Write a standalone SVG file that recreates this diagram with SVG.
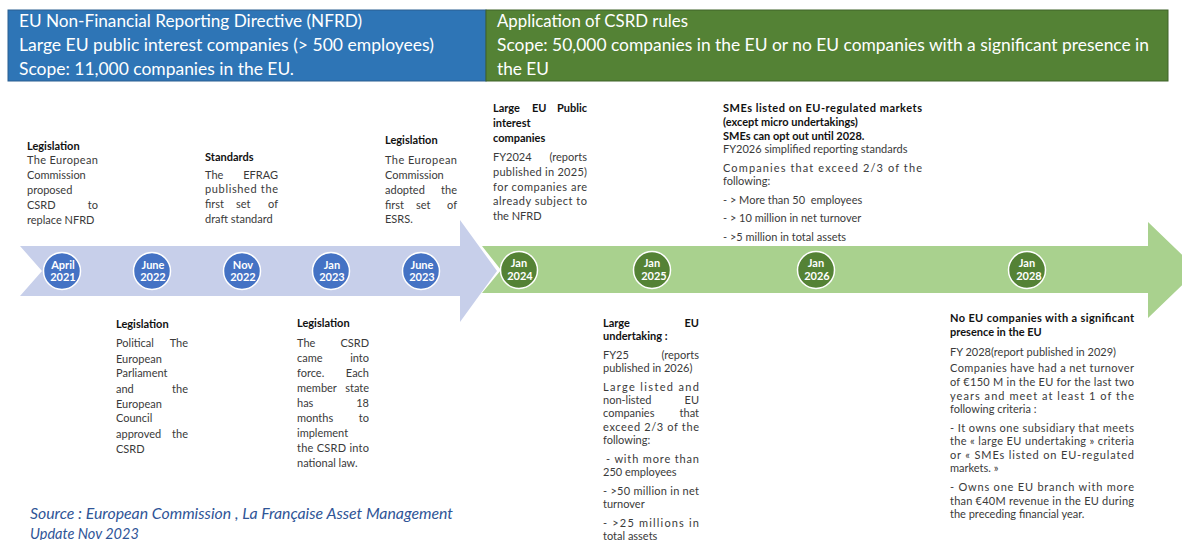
<svg xmlns="http://www.w3.org/2000/svg" width="1182" height="540" viewBox="0 0 1182 540">
  <style>
    .hd { font-family: Lato, "Liberation Sans", sans-serif; font-size: 17px; fill: #ffffff; }
    .t { font-family: Lato, "Liberation Sans", sans-serif; font-size: 11px; fill: #3a3a3a; }
    .b { font-family: Lato, "Liberation Sans", sans-serif; font-size: 11px; font-weight: bold; fill: #111111; }
    .e { text-anchor: end; }
    .dt { font-family: Lato, "Liberation Sans", sans-serif; font-size: 11px; font-weight: bold; fill: #ffffff; text-anchor: middle; }
    .src { font-family: Lato, "Liberation Sans", sans-serif; font-size: 14.5px; font-style: italic; fill: #2f5597; }
    .mb { fill: #4472c4; stroke: #ffffff; stroke-width: 1.5; }
    .mg { fill: #548235; stroke: #ffffff; stroke-width: 1.5; }
  </style>

  <rect width="1182" height="540" fill="#ffffff"/>

  <!-- Header bands -->
  <g id="header-nfrd">
    <rect x="8" y="10" width="478" height="71" fill="#2e75b6" stroke="#2a5e90" stroke-width="1"/>
    <text class="hd" x="19" y="27" textLength="343" lengthAdjust="spacingAndGlyphs">EU Non-Financial Reporting Directive (NFRD)</text>
    <text class="hd" x="19" y="51" textLength="415" lengthAdjust="spacingAndGlyphs">Large EU public interest companies (&gt; 500 employees)</text>
    <text class="hd" x="19" y="75" textLength="275" lengthAdjust="spacingAndGlyphs">Scope: 11,000 companies in the EU.</text>
  </g>
  <g id="header-csrd">
    <rect x="486" y="10" width="682" height="71" fill="#548235" stroke="#3e6328" stroke-width="1"/>
    <text class="hd" x="497" y="27" textLength="191" lengthAdjust="spacingAndGlyphs">Application of CSRD rules</text>
    <text class="hd" x="497" y="51" textLength="652" lengthAdjust="spacingAndGlyphs">Scope: 50,000 companies in the EU or no EU companies with a significant presence in</text>
    <text class="hd" x="497" y="75" textLength="52" lengthAdjust="spacingAndGlyphs">the EU</text>
  </g>

  <!-- Timeline arrows -->
  <g id="timeline">
    <polygon points="482,246 1148,246 1148,222 1198,270 1148,318 1148,293 482,293 501,270" fill="#a9d18e"/>
    <polygon points="20,246 460,246 460,220 497,271 460,322 460,296 20,296 42,271" fill="#c7cfea"/>
  </g>

  <!-- Milestones -->
  <g id="m-2021-04"><circle class="mb" cx="62" cy="271" r="18.5"/><text class="dt" x="63" y="269">April</text><text class="dt" x="63" y="281">2021</text></g>
  <g id="m-2022-06"><circle class="mb" cx="152" cy="271" r="18.5"/><text class="dt" x="153" y="269">June</text><text class="dt" x="153" y="281">2022</text></g>
  <g id="m-2022-11"><circle class="mb" cx="242" cy="271" r="18.5"/><text class="dt" x="243" y="269">Nov</text><text class="dt" x="243" y="281">2022</text></g>
  <g id="m-2023-01"><circle class="mb" cx="331" cy="271" r="18.5"/><text class="dt" x="332" y="269">Jan</text><text class="dt" x="332" y="281">2023</text></g>
  <g id="m-2023-06"><circle class="mb" cx="421" cy="271" r="18.5"/><text class="dt" x="422" y="269">June</text><text class="dt" x="422" y="281">2023</text></g>
  <g id="m-2024-01"><circle class="mg" cx="519" cy="270" r="18.5"/><text class="dt" x="519" y="267">Jan</text><text class="dt" x="520" y="280">2024</text></g>
  <g id="m-2025-01"><circle class="mg" cx="652" cy="270" r="18.5"/><text class="dt" x="652" y="267">Jan</text><text class="dt" x="654" y="280">2025</text></g>
  <g id="m-2026-01"><circle class="mg" cx="816" cy="270" r="18.5"/><text class="dt" x="816" y="267">Jan</text><text class="dt" x="817" y="280">2026</text></g>
  <g id="m-2028-01"><circle class="mg" cx="1027" cy="270" r="18.5"/><text class="dt" x="1027" y="267">Jan</text><text class="dt" x="1029" y="280">2028</text></g>

  <!-- Events above the timeline -->
  <g id="ev-csrd-proposed">
    <text class="b" x="27" y="150">Legislation</text>
    <text class="t" x="27" y="164" textLength="71" lengthAdjust="spacing">The European</text>
    <text class="t" x="27" y="179">Commission</text>
    <text class="t" x="27" y="194">proposed</text>
    <text class="t" x="27" y="209">CSRD</text><text class="t e" x="98" y="209">to</text>
    <text class="t" x="27" y="224">replace NFRD</text>
  </g>

  <g id="ev-efrag-draft">
    <text class="b" x="205" y="161">Standards</text>
    <text class="t" x="205" y="179">The</text><text class="t e" x="278" y="179">EFRAG</text>
    <text class="t" x="205" y="193" textLength="73" lengthAdjust="spacing">published the</text>
    <text class="t" x="205" y="208">first</text><text class="t" x="236" y="208">set</text><text class="t e" x="278" y="208">of</text>
    <text class="t" x="205" y="223">draft standard</text>
  </g>

  <g id="ev-esrs-adopted">
    <text class="b" x="385" y="144">Legislation</text>
    <text class="t" x="385" y="164" textLength="72" lengthAdjust="spacing">The European</text>
    <text class="t" x="385" y="179">Commission</text>
    <text class="t" x="385" y="194">adopted</text><text class="t e" x="457" y="194">the</text>
    <text class="t" x="385" y="209">first</text><text class="t" x="416" y="209">set</text><text class="t e" x="457" y="209">of</text>
    <text class="t" x="385" y="223">ESRS.</text>
  </g>

  <g id="ev-large-pie">
    <text class="b" x="493" y="112">Large</text><text class="b" x="532" y="112">EU</text><text class="b e" x="587" y="112">Public</text>
    <text class="b" x="493" y="127">interest</text>
    <text class="b" x="493" y="142">companies</text>
    <text class="t" x="493" y="161">FY2024</text><text class="t e" x="587" y="161">(reports</text>
    <text class="t" x="493" y="176" textLength="94" lengthAdjust="spacing">published in 2025)</text>
    <text class="t" x="493" y="191" textLength="94" lengthAdjust="spacing">for companies are</text>
    <text class="t" x="493" y="205" textLength="94" lengthAdjust="spacing">already subject to</text>
    <text class="t" x="493" y="220">the NFRD</text>
  </g>

  <g id="ev-listed-smes">
    <text class="b" x="723" y="112" textLength="199" lengthAdjust="spacing">SMEs listed on EU-regulated markets</text>
    <text class="b" x="723" y="126">(except micro undertakings)</text>
    <text class="b" x="723" y="140">SMEs can opt out until 2028.</text>
    <text class="t" x="723" y="153">FY2026 simplified reporting standards</text>
    <text class="t" x="723" y="172" textLength="199" lengthAdjust="spacing">Companies that exceed 2/3 of the</text>
    <text class="t" x="723" y="185">following:</text>
    <text class="t" x="723" y="204" xml:space="preserve">- &gt; More than 50  employees</text>
    <text class="t" x="723" y="222">- &gt; 10 million in net turnover</text>
    <text class="t" x="723" y="241">- &gt;5 million in total assets</text>
  </g>

  <!-- Events below the timeline -->
  <g id="ev-political-agreement">
    <text class="b" x="116" y="328">Legislation</text>
    <text class="t" x="116" y="347">Political</text><text class="t e" x="188" y="347">The</text>
    <text class="t" x="116" y="363">European</text>
    <text class="t" x="116" y="377">Parliament</text>
    <text class="t" x="116" y="393">and</text><text class="t e" x="188" y="393">the</text>
    <text class="t" x="116" y="408">European</text>
    <text class="t" x="116" y="422">Council</text>
    <text class="t" x="116" y="438">approved</text><text class="t e" x="188" y="438">the</text>
    <text class="t" x="116" y="453">CSRD</text>
  </g>

  <g id="ev-csrd-in-force">
    <text class="b" x="297" y="327">Legislation</text>
    <text class="t" x="297" y="347">The</text><text class="t e" x="369" y="347">CSRD</text>
    <text class="t" x="297" y="362">came</text><text class="t e" x="369" y="362">into</text>
    <text class="t" x="297" y="377">force.</text><text class="t e" x="369" y="377">Each</text>
    <text class="t" x="297" y="392">member</text><text class="t e" x="369" y="392">state</text>
    <text class="t" x="297" y="407">has</text><text class="t e" x="369" y="407">18</text>
    <text class="t" x="297" y="422">months</text><text class="t e" x="369" y="422">to</text>
    <text class="t" x="297" y="437">implement</text>
    <text class="t" x="297" y="452" textLength="72" lengthAdjust="spacing">the CSRD into</text>
    <text class="t" x="297" y="467">national law.</text>
  </g>

  <g id="ev-large-undertakings">
    <text class="b" x="603" y="327">Large</text><text class="b e" x="699" y="327">EU</text>
    <text class="b" x="603" y="340">undertaking :</text>
    <text class="t" x="603" y="359">FY25</text><text class="t e" x="699" y="359">(reports</text>
    <text class="t" x="603" y="372">published in 2026)</text>
    <text class="t" x="603" y="391" textLength="96" lengthAdjust="spacing">Large listed and</text>
    <text class="t" x="603" y="404">non-listed</text><text class="t e" x="699" y="404">EU</text>
    <text class="t" x="603" y="417">companies</text><text class="t e" x="699" y="417">that</text>
    <text class="t" x="603" y="431" textLength="96" lengthAdjust="spacing">exceed 2/3 of the</text>
    <text class="t" x="603" y="444">following:</text>
    <text class="t" x="606" y="463" textLength="93" lengthAdjust="spacing">- with more than</text>
    <text class="t" x="603" y="476">250 employees</text>
    <text class="t" x="603" y="495" textLength="96" lengthAdjust="spacing">- &gt;50 million in net</text>
    <text class="t" x="603" y="508">turnover</text>
    <text class="t" x="603" y="527" textLength="96" lengthAdjust="spacing">- &gt;25 millions in</text>
    <text class="t" x="603" y="540">total assets</text>
  </g>

  <g id="ev-non-eu-companies">
    <text class="b" x="950" y="322" textLength="184" lengthAdjust="spacing">No EU companies with a significant</text>
    <text class="b" x="950" y="336">presence in the EU</text>
    <text class="t" x="950" y="356">FY 2028(report published in 2029)</text>
    <text class="t" x="950" y="372" textLength="184" lengthAdjust="spacing">Companies have had a net turnover</text>
    <text class="t" x="950" y="386" textLength="184" lengthAdjust="spacing">of €150 M in the EU for the last two</text>
    <text class="t" x="950" y="400" textLength="184" lengthAdjust="spacing">years and meet at least 1 of the</text>
    <text class="t" x="950" y="413">following criteria :</text>
    <text class="t" x="950" y="432" textLength="184" lengthAdjust="spacing">- It owns one subsidiary that meets</text>
    <text class="t" x="950" y="445" textLength="184" lengthAdjust="spacing">the « large EU undertaking » criteria</text>
    <text class="t" x="950" y="459" textLength="184" lengthAdjust="spacing">or « SMEs listed on EU-regulated</text>
    <text class="t" x="950" y="472">markets. »</text>
    <text class="t" x="950" y="491" textLength="184" lengthAdjust="spacing">- Owns one EU branch with more</text>
    <text class="t" x="950" y="505" textLength="184" lengthAdjust="spacing">than €40M revenue in the EU during</text>
    <text class="t" x="950" y="518">the preceding financial year.</text>
  </g>

  <!-- Source note -->
  <g id="source">
    <text class="src" x="30" y="519" textLength="423" lengthAdjust="spacingAndGlyphs">Source : European Commission , La Française Asset Management</text>
    <text class="src" x="30" y="539">Update Nov 2023</text>
  </g>
</svg>
